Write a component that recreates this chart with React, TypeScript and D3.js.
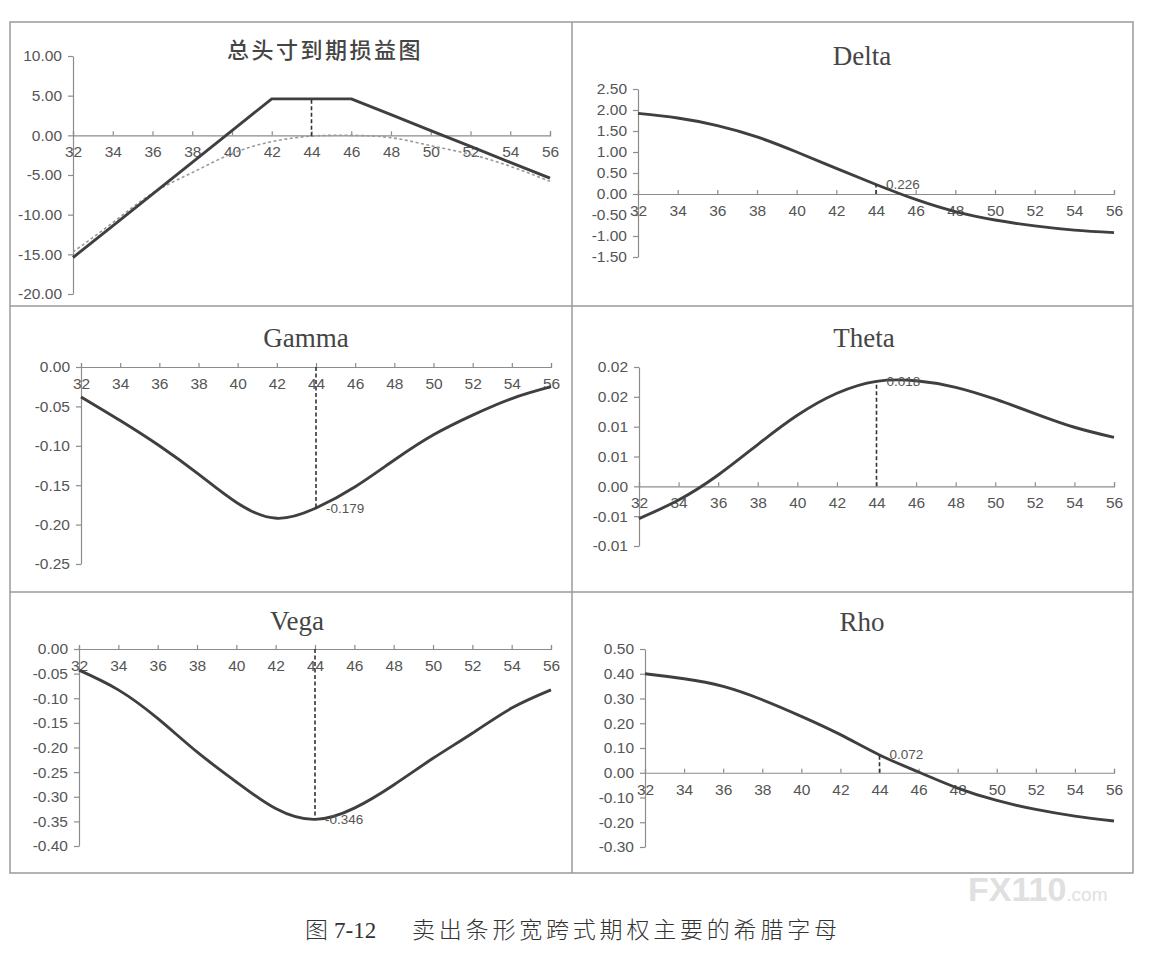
import * as d3 from 'd3';
import React, { FunctionComponent, useEffect, useRef } from 'react';

// underlying price (x axis of every panel)
const prices = [32, 34, 36, 38, 40, 42, 44, 46, 48, 50, 52, 54, 56];

// total position P&L: at expiry (solid) and today (dotted)
const pnlExpiry = [-15.4, -11.4, -7.4, -3.4, 0.6, 4.6, 4.6, 4.6, 2.6, 0.6, -1.4, -3.4, -5.4];
const pnlToday = [-14.7, -11.0, -7.3, -4.7, -2.3, -0.8, -0.1, 0.0, -0.3, -1.3, -2.4, -3.9, -5.8];

// greeks of the short strangle
const deltaValues = [1.92, 1.81, 1.63, 1.36, 1.0, 0.61, 0.226, -0.13, -0.42, -0.62, -0.76, -0.86, -0.92];
const gammaValues = [-0.038, -0.068, -0.1, -0.136, -0.173, -0.192, -0.179, -0.152, -0.118, -0.086, -0.061, -0.04, -0.025];
const thetaValues = [-0.0054, -0.0023, 0.0019, 0.007, 0.0119, 0.0156, 0.0176, 0.0177, 0.0166, 0.0146, 0.0122, 0.0099, 0.0082];
const vegaValues = [-0.043, -0.083, -0.141, -0.209, -0.27, -0.324, -0.346, -0.323, -0.276, -0.222, -0.171, -0.12, -0.083];
const rhoValues = [0.4, 0.38, 0.349, 0.295, 0.228, 0.154, 0.072, 0.003, -0.062, -0.112, -0.148, -0.175, -0.195];

// y tick values (bottom to top)
const pnlTicks = [-20, -15, -10, -5, 0, 5, 10];
const deltaTicks = [-1.5, -1, -0.5, 0, 0.5, 1, 1.5, 2, 2.5];
const gammaTicks = [-0.25, -0.2, -0.15, -0.1, -0.05, 0];
const thetaTicks = [-0.01, -0.005, 0, 0.005, 0.01, 0.015, 0.02];
const thetaTickLabels = ['-0.01', '-0.01', '0.00', '0.01', '0.01', '0.02', '0.02'];
const vegaTicks = [-0.4, -0.35, -0.3, -0.25, -0.2, -0.15, -0.1, -0.05, 0];
const rhoTicks = [-0.3, -0.2, -0.1, 0, 0.1, 0.2, 0.3, 0.4, 0.5];

// current price marker and its labels
const markerPrice = 44;
const deltaLabel = '0.226';
const gammaLabel = '-0.179';
const thetaLabel = '0.018';
const vegaLabel = '-0.346';
const rhoLabel = '0.072';

const mi = prices.indexOf(markerPrice);

interface PanelProps {
    title: string;
    cjk?: boolean;
    titleX: number;
    titleY: number;
    left: number;
    right: number;
    top: number;
    bottom: number;
    ticks: number[];
    tickLabels?: string[];
    values: number[];
    linear?: boolean;
    dotted?: number[];
    markerFrom?: number;
    markerTo: number;
    markerLabel?: string;
}

const Panel: FunctionComponent<PanelProps> = (p) => {
    const ref = useRef<SVGGElement>(null);

    useEffect(() => {
        const g = d3.select(ref.current);
        g.selectAll('*').remove();

        const x = d3
            .scaleLinear()
            .domain([prices[0], prices[prices.length - 1]])
            .range([p.left, p.right]);
        const y = d3
            .scaleLinear()
            .domain([p.ticks[0], p.ticks[p.ticks.length - 1]])
            .range([p.bottom, p.top]);

        const yAxis = d3
            .axisLeft(y)
            .tickValues(p.ticks)
            .tickSize(5)
            .tickSizeOuter(0)
            .tickPadding(6)
            .tickFormat((d: any, i: number) => (p.tickLabels ? p.tickLabels[i] : (+d).toFixed(2)));
        const yg = g.append('g').attr('transform', `translate(${p.left},0)`).call(yAxis as any);

        const xAxis = d3
            .axisBottom(x)
            .tickValues(prices)
            .tickSize(-4)
            .tickSizeOuter(-4)
            .tickPadding(11)
            .tickFormat(d3.format('d') as any);
        const xg = g.append('g').attr('transform', `translate(0,${y(0)})`).call(xAxis as any);

        [yg, xg].forEach((a) => {
            a.attr('font-family', 'Liberation Sans, Arial, sans-serif').attr('font-size', 15.5);
            a.selectAll('path, line').attr('stroke', '#8c8c8c').attr('stroke-width', 1.2);
            a.selectAll('text').attr('fill', '#555');
        });

        const smooth = d3
            .line<number>()
            .x((d, i) => x(prices[i]))
            .y((d) => y(d))
            .curve(d3.curveNatural);
        const straight = d3
            .line<number>()
            .x((d, i) => x(prices[i]))
            .y((d) => y(d));

        if (p.dotted) {
            g.append('path')
                .attr('d', smooth(p.dotted))
                .attr('fill', 'none')
                .attr('stroke', '#9a9a9a')
                .attr('stroke-width', 1.6)
                .attr('stroke-dasharray', '3,2.5');
        }

        g.append('path')
            .attr('d', (p.linear ? straight : smooth)(p.values))
            .attr('fill', 'none')
            .attr('stroke', '#3f3f3f')
            .attr('stroke-width', 2.9)
            .attr('stroke-linejoin', 'round');

        g.append('line')
            .attr('x1', x(markerPrice))
            .attr('x2', x(markerPrice))
            .attr('y1', y(p.markerFrom ?? 0))
            .attr('y2', y(p.markerTo))
            .attr('stroke', '#333')
            .attr('stroke-width', 1.6)
            .attr('stroke-dasharray', '4,2.5');

        if (p.markerLabel) {
            g.append('text')
                .attr('x', x(markerPrice) + 10)
                .attr('y', y(p.markerTo) + 1)
                .attr('dominant-baseline', 'middle')
                .attr('font-family', 'Liberation Sans, Arial, sans-serif')
                .attr('font-size', 13.5)
                .attr('fill', '#555')
                .text(p.markerLabel);
        }
    }, [p]);

    return (
        <g>
            <text
                x={p.titleX}
                y={p.titleY}
                textAnchor="middle"
                fill="#454545"
                fontFamily={p.cjk ? 'Noto Sans CJK SC' : 'Liberation Serif, serif'}
                fontSize={p.cjk ? 22 : 27}
                fontWeight={p.cjk ? 500 : 400}
                letterSpacing={p.cjk ? 2.5 : 0}
            >
                {p.title}
            </text>
            <g ref={ref} />
        </g>
    );
};

export default function App() {
    return (
        <svg width={1165} height={953} style={{ position: 'absolute', left: 0, top: 0 }}>
            <rect width={1165} height={953} fill="#fff" />

            <rect x={10} y={22} width={1123} height={851} fill="none" stroke="#9a9a9a" strokeWidth={1.5} />
            <line x1={572} y1={22} x2={572} y2={873} stroke="#9a9a9a" strokeWidth={1.5} />
            <line x1={10} y1={306} x2={1133} y2={306} stroke="#9a9a9a" strokeWidth={1.5} />
            <line x1={10} y1={592} x2={1133} y2={592} stroke="#9a9a9a" strokeWidth={1.5} />

            <Panel
                title="总头寸到期损益图"
                cjk
                titleX={325}
                titleY={58}
                left={73}
                right={550}
                top={56}
                bottom={294}
                ticks={pnlTicks}
                values={pnlExpiry}
                linear
                dotted={pnlToday}
                markerFrom={pnlToday[mi]}
                markerTo={pnlExpiry[mi]}
            />
            <Panel
                title="Delta"
                titleX={862}
                titleY={65}
                left={638}
                right={1114}
                top={89}
                bottom={257}
                ticks={deltaTicks}
                values={deltaValues}
                markerTo={deltaValues[mi]}
                markerLabel={deltaLabel}
            />
            <Panel
                title="Gamma"
                titleX={306}
                titleY={347}
                left={81}
                right={551}
                top={367}
                bottom={564}
                ticks={gammaTicks}
                values={gammaValues}
                markerTo={gammaValues[mi]}
                markerLabel={gammaLabel}
            />
            <Panel
                title="Theta"
                titleX={864}
                titleY={347}
                left={639}
                right={1114}
                top={367}
                bottom={546}
                ticks={thetaTicks}
                tickLabels={thetaTickLabels}
                values={thetaValues}
                markerTo={thetaValues[mi]}
                markerLabel={thetaLabel}
            />
            <Panel
                title="Vega"
                titleX={297}
                titleY={630}
                left={79}
                right={551}
                top={649}
                bottom={846}
                ticks={vegaTicks}
                values={vegaValues}
                markerTo={vegaValues[mi]}
                markerLabel={vegaLabel}
            />
            <Panel
                title="Rho"
                titleX={862}
                titleY={631}
                left={645}
                right={1114}
                top={649}
                bottom={847}
                ticks={rhoTicks}
                values={rhoValues}
                markerTo={rhoValues[mi]}
                markerLabel={rhoLabel}
            />

            <text x={968} y={901} fill="#e0e0e0" fontFamily="Liberation Sans, Arial, sans-serif" fontWeight="bold">
                <tspan fontSize={34}>FX110</tspan>
                <tspan fontSize={19} fontWeight="normal">.com</tspan>
            </text>

            <text x={305} y={938} fill="#333" fontSize={23}>
                <tspan fontFamily="Noto Sans CJK SC" fontWeight={300}>图</tspan>
                <tspan fontFamily="Liberation Serif, serif" dx={6}>7-12</tspan>
            </text>
            <text x={412} y={938} fill="#333" fontSize={23} fontFamily="Noto Sans CJK SC" fontWeight={300} letterSpacing={3.8}>
                卖出条形宽跨式期权主要的希腊字母
            </text>
        </svg>
    );
}
